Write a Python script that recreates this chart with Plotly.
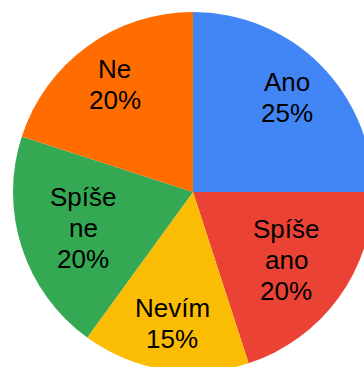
import math
import plotly.graph_objects as go

# Survey answers and their shares (percent)
labels = ["Ano", "Spíše ano", "Nevím", "Spíše ne", "Ne"]
label_lines = [["Ano"], ["Spíše", "ano"], ["Nevím"], ["Spíše", "ne"], ["Ne"]]
values = [25, 20, 15, 20, 20]
colors = ["#4285F4", "#EA4335", "#FBBC04", "#34A853", "#FF6D01"]

FONT = dict(family="Liberation Sans, Arial, sans-serif", size=26, color="#000000")
LINE_HEIGHT = 31  # px between text baselines

fig = go.Figure(
    go.Pie(
        labels=labels,
        values=values,
        textinfo="none",
        marker=dict(colors=colors, line=dict(width=0)),
        sort=False,
        direction="clockwise",
        rotation=0,
        hoverinfo="label+percent",
    )
)

# Slice labels: name lines plus the share, centred on each slice's mid-angle
total = sum(values)
cum = 0
annotations = []
for lines, v in zip(label_lines, values):
    mid = 2 * math.pi * (cum + v / 2) / total
    cum += v
    text_lines = lines + [f"{round(100 * v / total)}%"]
    n = len(text_lines)
    frac = 0.74 if n <= 2 else 0.64  # radial position as a fraction of the radius
    cx = 0.5 + 0.5 * frac * math.sin(mid)
    cy = 0.5 + 0.5 * frac * math.cos(mid)
    for i, t in enumerate(text_lines):
        annotations.append(
            dict(
                x=cx,
                y=cy,
                xref="paper",
                yref="paper",
                text=t,
                showarrow=False,
                xanchor="center",
                yanchor="middle",
                yshift=((n - 1) / 2 - i) * LINE_HEIGHT,
                font=FONT,
            )
        )

fig.update_layout(
    width=386,
    height=384,
    margin=dict(l=13, r=13, t=12, b=12),
    showlegend=False,
    paper_bgcolor="#FFFFFF",
    plot_bgcolor="#FFFFFF",
    annotations=annotations,
)

fig.write_html(
    "out.html",
    post_script="document.body.style.margin='0';document.body.style.overflow='hidden';",
)
